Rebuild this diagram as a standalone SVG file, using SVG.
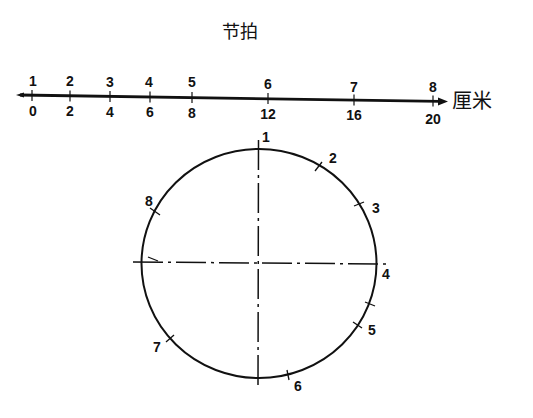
<svg xmlns="http://www.w3.org/2000/svg" width="533" height="418" viewBox="0 0 533 418">
<style>
.t{font-family:"Liberation Sans",Arial,sans-serif;font-size:14px;font-weight:bold;fill:#111;text-anchor:middle}
.cj{font-family:"Noto Sans CJK SC",sans-serif;fill:#111}
.ln{stroke:#111;fill:none}
</style>
<rect width="533" height="418" fill="#fff"/>
<text class="cj" x="240" y="38" font-size="18" text-anchor="middle">节拍</text>
<g id="ruler">
<line class="ln" x1="20" y1="95" x2="440" y2="101.4" stroke-width="2.8"/>
<path d="M16,95 L24,92.5 L24,97.5 Z" fill="#111"/>
<path d="M448,101.5 L438,97.5 L438,105.5 Z" fill="#111"/>
<g class="ln" stroke-width="1.2">
<line x1="32" y1="90" x2="32" y2="101"/>
<line x1="70" y1="90.5" x2="70" y2="101.5"/>
<line x1="110" y1="91" x2="110" y2="102"/>
<line x1="150" y1="91.5" x2="150" y2="102.5"/>
<line x1="192" y1="92" x2="192" y2="103"/>
<line x1="268" y1="93" x2="268" y2="104"/>
<line x1="354" y1="94.5" x2="354" y2="105.5"/>
<line x1="433" y1="95.5" x2="433" y2="106.5"/>
</g>
<text class="t" x="33" y="86">1</text>
<text class="t" x="70" y="86">2</text>
<text class="t" x="110" y="87">3</text>
<text class="t" x="149" y="87">4</text>
<text class="t" x="192" y="87">5</text>
<text class="t" x="268" y="89">6</text>
<text class="t" x="354" y="92">7</text>
<text class="t" x="433" y="92">8</text>
<text class="t" x="33" y="116">0</text>
<text class="t" x="70" y="116">2</text>
<text class="t" x="110" y="117">4</text>
<text class="t" x="150" y="117">6</text>
<text class="t" x="192" y="118">8</text>
<text class="t" x="268" y="119">12</text>
<text class="t" x="354" y="120">16</text>
<text class="t" x="433" y="124">20</text>
<text class="cj" x="452" y="108" font-size="20">厘米</text>
</g>
<g id="circle">
<ellipse class="ln" cx="259" cy="263.5" rx="117.5" ry="114.5" stroke-width="2"/>
<line class="ln" x1="258.5" y1="140" x2="258" y2="385" stroke-width="1.5" stroke-dasharray="30,5,3,5"/>
<line class="ln" x1="133" y1="262" x2="386" y2="264" stroke-width="1.5" stroke-dasharray="30,5,3,5"/>
<line class="ln" x1="148" y1="257" x2="158" y2="261" stroke-width="1.2"/>
<g class="ln" stroke-width="1.3">
<line x1="315" y1="171" x2="322" y2="162"/>
<line x1="354" y1="206" x2="364" y2="202"/>
<line x1="365" y1="302" x2="375" y2="306"/>
<line x1="353" y1="322" x2="362" y2="328"/>
<line x1="287" y1="370" x2="289" y2="380"/>
<line x1="166" y1="342" x2="174" y2="335"/>
<line x1="150" y1="208" x2="160" y2="215"/>
</g>
<text class="t" x="266" y="142">1</text>
<text class="t" x="333" y="163">2</text>
<text class="t" x="376" y="213">3</text>
<text class="t" x="386" y="279">4</text>
<text class="t" x="372" y="335">5</text>
<text class="t" x="298" y="391">6</text>
<text class="t" x="157" y="352">7</text>
<text class="t" x="149" y="206">8</text>
</g>
</svg>
